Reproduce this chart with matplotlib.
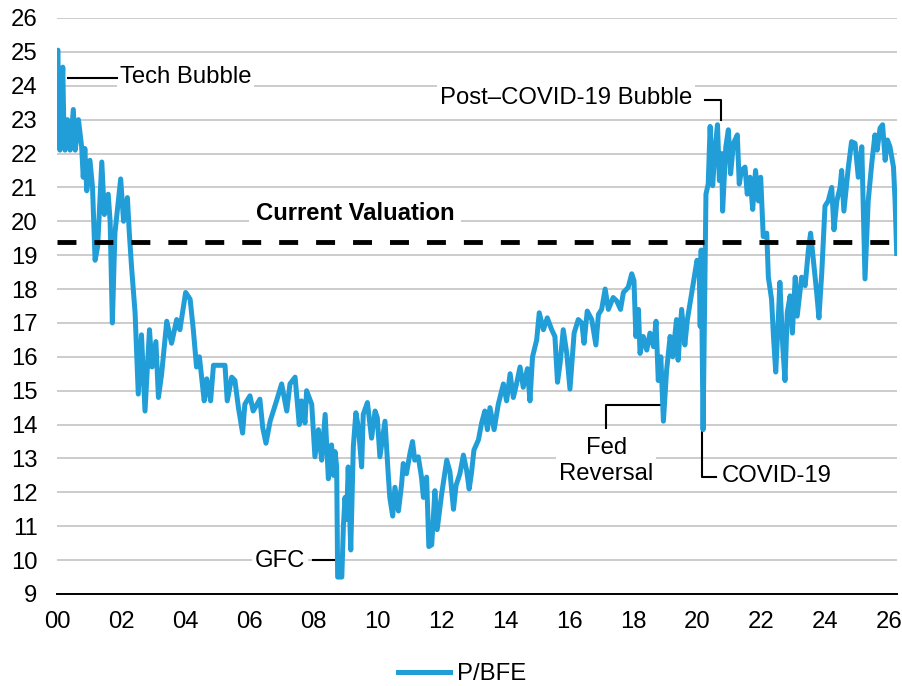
import matplotlib
matplotlib.use("Agg")
import matplotlib.pyplot as plt

plt.rcParams['font.family'] = ['Liberation Sans', 'DejaVu Sans']

# P/BFE (anno decimale, multiplo)
dates = [
    2000.00, 2000.03, 2000.05, 2000.09, 2000.14, 2000.18, 2000.21, 2000.25, 2000.33, 2000.41,
    2000.51, 2000.57, 2000.67, 2000.77, 2000.82, 2000.87, 2000.93, 2001.03, 2001.11, 2001.19,
    2001.27, 2001.40, 2001.48, 2001.60, 2001.66, 2001.73, 2001.81, 2001.99, 2002.08, 2002.20,
    2002.26, 2002.33, 2002.44, 2002.54, 2002.64, 2002.75, 2002.89, 2002.97, 2003.09, 2003.17,
    2003.27, 2003.43, 2003.58, 2003.74, 2003.84, 2004.02, 2004.16, 2004.26, 2004.36, 2004.45,
    2004.60, 2004.68, 2004.80, 2004.89, 2005.25, 2005.32, 2005.46, 2005.56, 2005.67, 2005.80,
    2005.87, 2006.03, 2006.13, 2006.34, 2006.43, 2006.53, 2006.66, 2006.86, 2007.02, 2007.18,
    2007.28, 2007.44, 2007.57, 2007.64, 2007.75, 2007.80, 2007.96, 2008.06, 2008.17, 2008.27,
    2008.38, 2008.48, 2008.58, 2008.64, 2008.69, 2008.74, 2008.77, 2008.90, 2008.95, 2009.00,
    2009.05, 2009.10, 2009.18, 2009.26, 2009.34, 2009.42, 2009.52, 2009.57, 2009.70, 2009.83,
    2009.94, 2010.01, 2010.09, 2010.25, 2010.35, 2010.40, 2010.49, 2010.56, 2010.67, 2010.77,
    2010.82, 2010.92, 2011.03, 2011.11, 2011.18, 2011.29, 2011.39, 2011.45, 2011.55, 2011.62,
    2011.71, 2011.81, 2011.88, 2012.02, 2012.18, 2012.28, 2012.39, 2012.47, 2012.59, 2012.70,
    2012.80, 2012.88, 2012.95, 2013.03, 2013.17, 2013.27, 2013.37, 2013.45, 2013.53, 2013.66,
    2013.79, 2013.95, 2014.05, 2014.16, 2014.26, 2014.36, 2014.47, 2014.57, 2014.70, 2014.78,
    2014.86, 2014.99, 2015.07, 2015.20, 2015.32, 2015.46, 2015.56, 2015.64, 2015.72, 2015.82,
    2015.93, 2016.03, 2016.16, 2016.29, 2016.40, 2016.47, 2016.57, 2016.71, 2016.84, 2016.92,
    2017.02, 2017.13, 2017.23, 2017.38, 2017.49, 2017.61, 2017.70, 2017.85, 2017.96, 2018.03,
    2018.09, 2018.17, 2018.22, 2018.32, 2018.43, 2018.53, 2018.64, 2018.72, 2018.79, 2018.87,
    2018.95, 2019.05, 2019.16, 2019.24, 2019.36, 2019.41, 2019.52, 2019.62, 2019.70, 2019.83,
    2019.94, 2020.00, 2020.07, 2020.10, 2020.13, 2020.19, 2020.28, 2020.35, 2020.41, 2020.49,
    2020.56, 2020.64, 2020.70, 2020.77, 2020.80, 2020.90, 2020.98, 2021.05, 2021.14, 2021.26,
    2021.32, 2021.39, 2021.50, 2021.57, 2021.66, 2021.74, 2021.83, 2021.92, 2021.99, 2022.07,
    2022.18, 2022.23, 2022.33, 2022.39, 2022.46, 2022.54, 2022.59, 2022.68, 2022.75, 2022.82,
    2022.91, 2022.98, 2023.07, 2023.13, 2023.27, 2023.38, 2023.48, 2023.55, 2023.66, 2023.74,
    2023.81, 2023.90, 2024.00, 2024.10, 2024.21, 2024.28, 2024.37, 2024.47, 2024.52, 2024.59,
    2024.73, 2024.83, 2024.94, 2025.04, 2025.15, 2025.25, 2025.35, 2025.46, 2025.56, 2025.63,
    2025.72, 2025.80, 2025.88, 2025.95, 2026.03, 2026.14, 2026.19, 2026.24,
]
pe = [
    25.0, 25.05, 23.0, 22.1, 23.2, 24.55, 23.0, 22.1, 23.0, 22.1,
    23.3, 22.1, 23.0, 22.2, 21.3, 22.15, 20.9, 21.8, 21.0, 18.85,
    19.25, 21.75, 20.2, 20.8, 20.0, 17.0, 19.65, 21.25, 20.0, 20.7,
    19.65, 18.65, 17.3, 14.9, 16.65, 14.4, 16.8, 15.7, 16.45, 14.8,
    15.5, 17.05, 16.4, 17.1, 16.8, 17.9, 17.7, 16.8, 15.7, 16.0,
    14.7, 15.35, 14.7, 15.75, 15.75, 14.7, 15.4, 15.3, 14.5, 13.75,
    14.6, 14.85, 14.4, 14.75, 13.9, 13.45, 14.1, 14.7, 15.2, 14.4,
    15.2, 15.4, 14.0, 14.7, 14.05, 15.0, 14.6, 13.05, 13.85, 12.95,
    14.3, 12.4, 13.4, 12.5, 13.2, 12.75, 9.5, 9.5, 11.0, 11.85,
    11.2, 12.75, 10.3, 13.35, 14.35, 13.9, 12.75, 14.3, 14.65, 13.6,
    14.4, 14.2, 13.05, 14.1, 12.55, 11.85, 11.3, 12.15, 11.45, 12.25,
    12.85, 12.55, 13.15, 13.5, 12.95, 13.05, 12.45, 11.85, 12.45, 10.4,
    10.45, 12.05, 10.9, 11.95, 12.95, 12.6, 11.5, 12.2, 12.55, 13.1,
    12.65, 12.1, 12.55, 13.25, 13.55, 14.05, 14.4, 13.85, 14.5, 13.85,
    14.6, 15.2, 14.7, 15.5, 14.8, 15.2, 15.7, 15.1, 15.65, 14.7,
    16.0, 16.5, 17.3, 16.8, 17.15, 16.8, 16.6, 15.25, 15.8, 16.8,
    16.1, 15.05, 16.7, 17.1, 17.0, 16.4, 17.35, 17.1, 16.35, 17.25,
    17.4, 18.0, 17.4, 17.75, 17.65, 17.4, 17.9, 18.05, 18.45, 18.25,
    16.6, 17.4, 16.1, 16.6, 16.2, 16.7, 16.3, 17.05, 15.3, 16.0,
    14.1, 15.6, 16.6, 16.0, 17.1, 15.9, 17.4, 16.35, 17.1, 17.85,
    18.5, 18.85, 18.6, 16.9, 19.15, 13.85, 20.8, 21.1, 22.8, 21.05,
    22.1, 22.85, 21.2, 22.0, 20.3, 22.2, 22.7, 21.4, 22.3, 22.55,
    21.1, 21.5, 21.6, 20.8, 21.3, 20.35, 21.5, 20.6, 21.3, 19.55,
    19.65, 18.35, 17.7, 16.6, 15.55, 17.1, 18.2, 16.3, 15.3, 17.3,
    17.8, 16.7, 18.35, 17.2, 18.35, 18.1, 19.15, 19.65, 18.65, 17.9,
    17.15, 18.5, 20.45, 20.6, 21.0, 19.75, 20.6, 21.0, 21.5, 20.3,
    21.6, 22.35, 22.3, 21.3, 22.2, 18.3, 20.6, 21.7, 22.55, 22.1,
    22.75, 22.85, 21.8, 22.4, 22.2, 21.6, 20.6, 19.05,
]

current_valuation = 19.4
year_ticks = list(range(2000, 2027, 2))
year_labels = [f"{y % 100:02d}" for y in year_ticks]
value_ticks = list(range(9, 27))

BLUE = '#219ED8'
FS = 17.2

fig = plt.figure(figsize=(9.03, 6.86), dpi=100)
ax = fig.add_axes([57 / 903, 92 / 686, 840 / 903, 576 / 686])

ax.plot(dates, pe, color=BLUE, lw=3.6, solid_joinstyle='round', zorder=3, label='P/BFE')
ax.axhline(current_valuation, color='black', lw=3.5, dashes=(3.9, 3.7), zorder=4)

ax.set_xlim(2000, 2026.25)
ax.set_ylim(9, 26)
ax.set_xticks(year_ticks)
ax.set_xticklabels(year_labels)
ax.set_yticks(value_ticks)

ax.set_axisbelow(True)
ax.yaxis.grid(True, color='#c4c4c4', lw=1.2)
for s in ['left', 'right', 'top']:
    ax.spines[s].set_visible(False)
ax.spines['bottom'].set_linewidth(1.4)
ax.tick_params(axis='both', length=0, labelsize=FS)
ax.tick_params(axis='y', pad=14)
ax.tick_params(axis='x', pad=12)

# etichette con sfondo bianco e linee guida
box = dict(facecolor='white', edgecolor='none', pad=2)
lead = dict(color='black', lw=1.5, zorder=2.6)

ax.text(2001.97, 24.26, "Tech Bubble", fontsize=FS, ha='left', va='center', bbox=box, zorder=2.5)
ax.plot([2000.34, 2001.88], [24.23, 24.23], **lead)

ax.text(2009.31, 20.24, "Current Valuation", fontsize=FS, fontweight='bold',
        ha='center', va='center', bbox=dict(facecolor='white', edgecolor='none', pad=5), zorder=2.5)

ax.text(2019.84, 23.64, "Post\u2013COVID-19 Bubble", fontsize=FS, ha='right', va='center',
        bbox=box, zorder=2.5)
ax.plot([2020.25, 2020.75, 2020.75], [23.58, 23.58, 23.0], **lead)

ax.text(2007.75, 9.97, "GFC", fontsize=FS, ha='right', va='center', bbox=box, zorder=2.5)
ax.plot([2008.0, 2008.75], [10.0, 10.0], **lead)

ax.text(2017.16, 12.93, "Fed\nReversal", fontsize=FS, ha='center', va='center',
        linespacing=1.2, bbox=box, zorder=2.5)
ax.plot([2017.16, 2017.16, 2018.88], [13.9, 14.58, 14.58], **lead)

ax.text(2020.78, 12.48, "COVID-19", fontsize=FS, ha='left', va='center', bbox=box, zorder=2.5)
ax.plot([2020.16, 2020.16, 2020.6], [13.84, 12.45, 12.45], **lead)

fig.legend(loc='center', bbox_to_anchor=(462 / 903, 12 / 686), frameon=False,
           fontsize=FS, handlelength=2.2, handletextpad=0.3)

fig.savefig('out.png', dpi=100)
